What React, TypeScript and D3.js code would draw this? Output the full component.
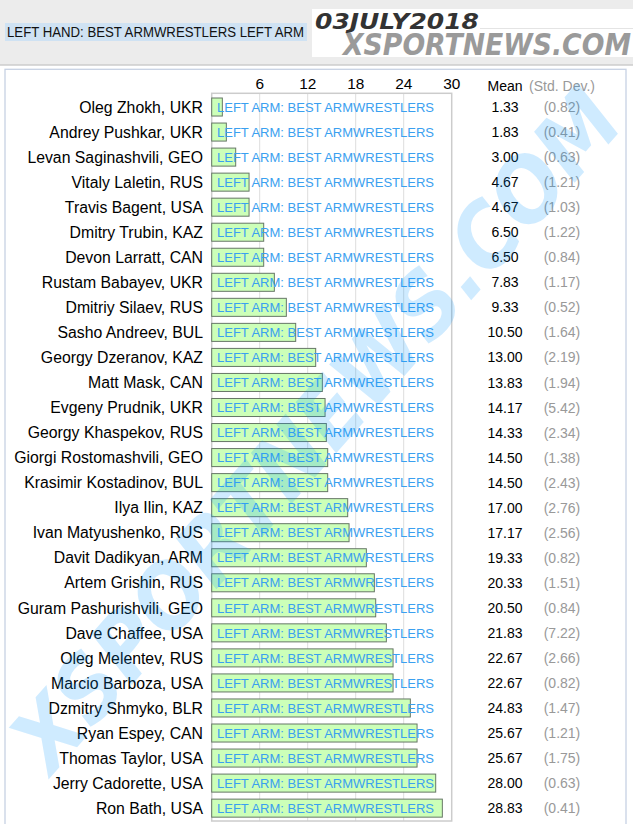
import React from "react";
import * as d3 from "d3";

const names = [
  "Oleg Zhokh, UKR", "Andrey Pushkar, UKR", "Levan Saginashvili, GEO", "Vitaly Laletin, RUS",
  "Travis Bagent, USA", "Dmitry Trubin, KAZ", "Devon Larratt, CAN", "Rustam Babayev, UKR",
  "Dmitriy Silaev, RUS", "Sasho Andreev, BUL", "Georgy Dzeranov, KAZ", "Matt Mask, CAN",
  "Evgeny Prudnik, UKR", "Georgy Khaspekov, RUS", "Giorgi Rostomashvili, GEO", "Krasimir Kostadinov, BUL",
  "Ilya Ilin, KAZ", "Ivan Matyushenko, RUS", "Davit Dadikyan, ARM", "Artem Grishin, RUS",
  "Guram Pashurishvili, GEO", "Dave Chaffee, USA", "Oleg Melentev, RUS", "Marcio Barboza, USA",
  "Dzmitry Shmyko, BLR", "Ryan Espey, CAN", "Thomas Taylor, USA", "Jerry Cadorette, USA", "Ron Bath, USA",
];
const means = [
  1.33, 1.83, 3.0, 4.67, 4.67, 6.5, 6.5, 7.83, 9.33, 10.5, 13.0, 13.83, 14.17, 14.33, 14.5, 14.5,
  17.0, 17.17, 19.33, 20.33, 20.5, 21.83, 22.67, 22.67, 24.83, 25.67, 25.67, 28.0, 28.83,
];
const stdDevs = [
  0.82, 0.41, 0.63, 1.21, 1.03, 1.22, 0.84, 1.17, 0.52, 1.64, 2.19, 1.94, 5.42, 2.34, 1.38, 2.43,
  2.76, 2.56, 0.82, 1.51, 0.84, 7.22, 2.66, 0.82, 1.47, 1.21, 1.75, 0.63, 0.41,
];
const ticks = [6, 12, 18, 24, 30];
const barLabel = "LEFT ARM: BEST ARMWRESTLERS";
const title = "LEFT HAND: BEST ARMWRESTLERS LEFT ARM";
const dateText = "03JULY2018";
const siteText = "XSPORTNEWS.COM";

const W = 633;
const H = 824;
const font = "Arial, 'Liberation Sans', sans-serif";
const heavy = "'DejaVu Sans', Arial, sans-serif";

export default function App() {
  const x = d3.scaleLinear().domain([0, 30]).range([211.7, 451.7]);
  const y = d3
    .scaleBand<number>()
    .domain(d3.range(names.length))
    .range([94.5, 94.5 + 25.04 * names.length])
    .paddingInner(0.28)
    .paddingOuter(0.14);
  const frameTop = 93.3;
  const frameBottom = 821;
  const bh = y.bandwidth();

  return (
    <svg
      width={W}
      height={H}
      style={{ position: "absolute", left: 0, top: 0, display: "block" }}
    >
      {/* header */}
      <rect x={0} y={0} width={W} height={65} fill="#ececec" />
      <line x1={0} x2={W} y1={65} y2={65} stroke="#cccccc" strokeWidth={1.5} />
      <rect x={0} y={66} width={W} height={H - 66} fill="#ffffff" />
      <rect x={5} y={23} width={302} height={18} fill="#cfe2f3" />
      <text
        x={7}
        y={37}
        fontFamily={font}
        fontSize={14}
        fill="#111"
        textLength={297}
        lengthAdjust="spacingAndGlyphs"
      >
        {title}
      </text>
      <rect x={312} y={9} width={321} height={48} fill="#ffffff" />
      <line x1={480} x2={633} y1={28.5} y2={28.5} stroke="#e4e4e4" strokeWidth={1} />
      <text
        x={315}
        y={29}
        fontFamily={heavy}
        fontSize={22}
        fontWeight="bold"
        fontStyle="italic"
        fill="#333"
        textLength={164}
        lengthAdjust="spacingAndGlyphs"
      >
        {dateText}
      </text>
      <text
        x={343}
        y={55}
        fontFamily={heavy}
        fontSize={31}
        fontWeight="bold"
        fontStyle="italic"
        fill="#9a9a9a"
        textLength={288}
        lengthAdjust="spacingAndGlyphs"
      >
        {siteText}
      </text>

      {/* panel */}
      <rect x={5} y={69.3} width={621} height={H} fill="#fff" stroke="#c7d1e3" strokeWidth={1.3} />

      {/* ticks */}
      {ticks.map((t) => (
        <text
          key={"t" + t}
          x={x(t)}
          y={89}
          textAnchor="middle"
          fontFamily={font}
          fontSize={15.4}
          fill="#000"
        >
          {t}
        </text>
      ))}
      <text x={505} y={90.7} textAnchor="middle" fontFamily={font} fontSize={14} fill="#000">
        Mean
      </text>
      <text x={562} y={90.7} textAnchor="middle" fontFamily={font} fontSize={14} fill="#999">
        (Std. Dev.)
      </text>

      {/* grid and frame */}
      {ticks.slice(0, -1).map((t) => (
        <line
          key={"g" + t}
          x1={x(t)}
          x2={x(t)}
          y1={frameTop}
          y2={frameBottom}
          stroke="#dddddd"
          strokeWidth={1}
        />
      ))}
      <rect
        x={x(0)}
        y={frameTop}
        width={x(30) - x(0)}
        height={frameBottom - frameTop}
        fill="none"
        stroke="#cccccc"
        strokeWidth={1.5}
      />

      {/* bars */}
      {means.map((m, i) => {
        const cy = (y(i) as number) + bh / 2;
        return (
          <g key={"r" + i}>
            <text
              x={203}
              y={cy}
              dy="0.36em"
              textAnchor="end"
              fontFamily={font}
              fontSize={15.8}
              fill="#000"
            >
              {names[i]}
            </text>
            <rect
              x={x(0)}
              y={y(i)}
              width={x(m) - x(0)}
              height={bh}
              fill="#ccffb8"
              stroke="#667766"
              strokeWidth={1}
            />
            <text
              x={217}
              y={cy}
              dy="0.36em"
              fontFamily={font}
              fontSize={13}
              fill="#3aa0f0"
            >
              {barLabel}
            </text>
            <text
              x={505}
              y={cy}
              dy="0.36em"
              textAnchor="middle"
              fontFamily={font}
              fontSize={14}
              fill="#000"
            >
              {m.toFixed(2)}
            </text>
            <text
              x={562}
              y={cy}
              dy="0.36em"
              textAnchor="middle"
              fontFamily={font}
              fontSize={14}
              fill="#999"
            >
              {"(" + stdDevs[i].toFixed(2) + ")"}
            </text>
          </g>
        );
      })}

      {/* watermark */}
      <text
        transform="translate(316,430) rotate(-48.6)"
        textAnchor="middle"
        dominantBaseline="central"
        fontFamily={heavy}
        fontSize={88}
        fontWeight="bold"
        fontStyle="italic"
        fill="rgb(0,150,255)"
        fillOpacity={0.19}
        textLength={870}
        lengthAdjust="spacingAndGlyphs"
      >
        {siteText}
      </text>
    </svg>
  );
}
